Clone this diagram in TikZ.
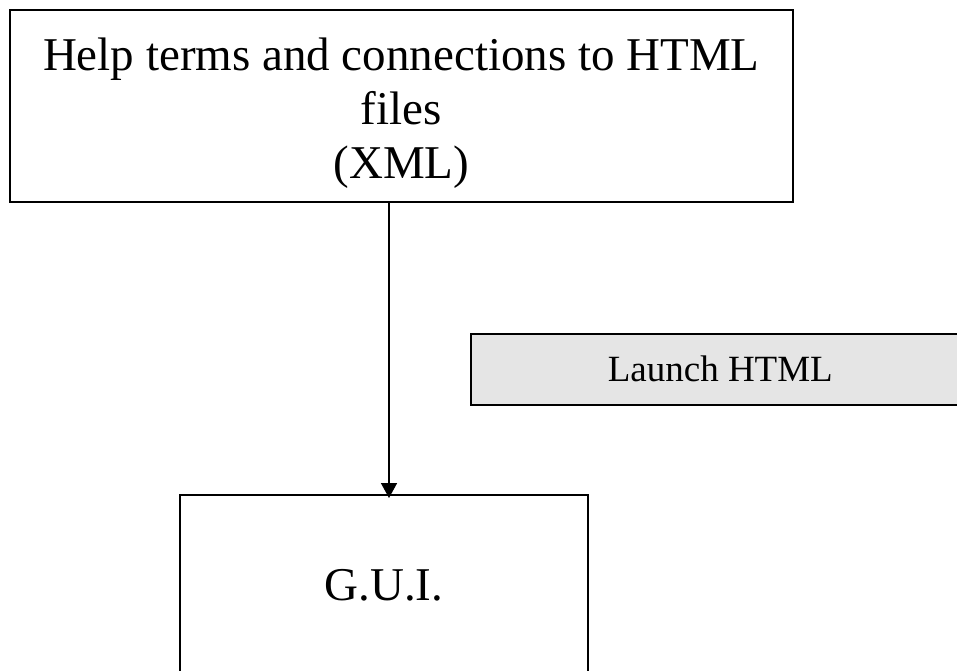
\documentclass[tikz,border=0pt]{standalone}
\usepackage{fontspec}
\setmainfont{Liberation Serif}
\usetikzlibrary{arrows.meta}
\begin{document}
\begin{tikzpicture}[x=1pt,y=-1pt,
  box/.style={draw=black,line width=1.6pt,rectangle,inner sep=0pt,align=center},
  bigtext/.style={font=\fontsize{47}{54}\selectfont},
  smalltext/.style={font=\fontsize{37}{42}\selectfont},
  flow/.style={line width=1.6pt,-{Triangle[length=15pt,width=16pt]},shorten >=-4pt}]
\useasboundingbox (0,0) rectangle (957,670);
\clip (0,0) rectangle (957,670);
% source of help data
\node[box,bigtext,minimum width=783pt,minimum height=192pt,anchor=north west]
  (xml) at (9,9) {\rule{0pt}{48pt}Help terms and connections to HTML\\files\\(XML)};
% launcher box, running off the right edge
\node[box,smalltext,fill={rgb,255:red,229;green,229;blue,229},
  minimum width=499pt,minimum height=71pt,anchor=north west]
  (launch) at (470,333) {Launch HTML};
% user interface box, running off the bottom edge
\node[box,bigtext,minimum width=408pt,minimum height=180pt,anchor=north west]
  (gui) at (179,494) {G.U.I.};
\coordinate (ax) at (389,0);
\draw[flow] (xml.south -| ax) -- (gui.north -| ax);
\end{tikzpicture}
\end{document}
